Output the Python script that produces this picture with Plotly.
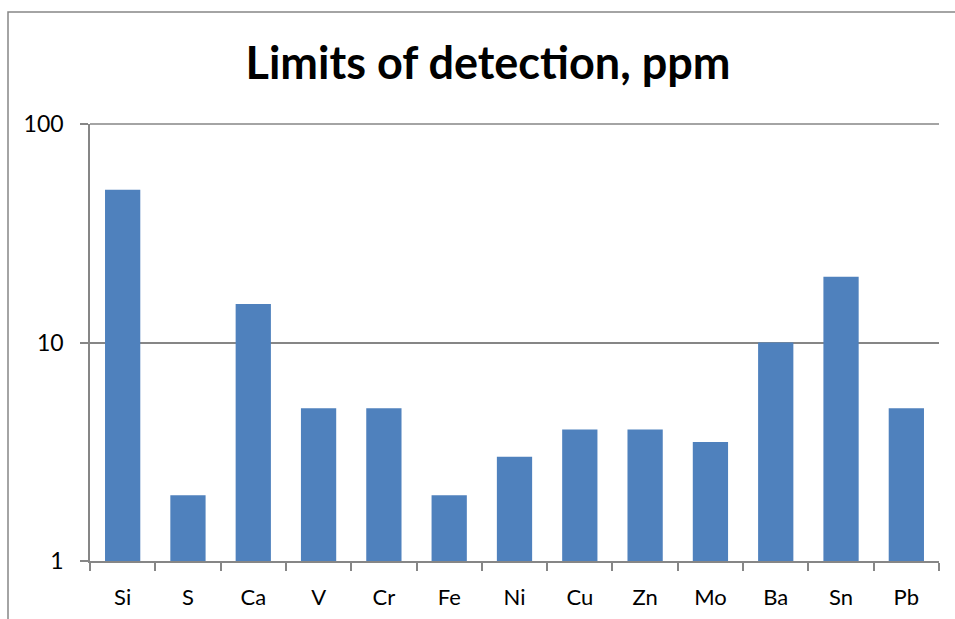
import plotly.graph_objects as go

elements = ["Si", "S", "Ca", "V", "Cr", "Fe", "Ni", "Cu", "Zn", "Mo", "Ba", "Sn", "Pb"]
lod_ppm = [50, 2, 15, 5, 5, 2, 3, 4, 4, 3.5, 10, 20, 5]
y_ticks = [1, 10, 100]
y_tick_labels = ["1", "10", "100"]

fig = go.Figure(go.Bar(x=elements, y=lod_ppm, marker=dict(color="#4F81BD", line=dict(width=0))))

L, R, T, B = 90, 16, 124, 58
W, H = 955, 619
pw, ph = W - L - R, H - T - B

fig.update_layout(
    width=W, height=H,
    margin=dict(l=L, r=R, t=T, b=B, autoexpand=False),
    paper_bgcolor="white", plot_bgcolor="white",
    bargap=0.46,
    showlegend=False,
    title=dict(text="<b>Limits of detection, ppm</b>", x=488 / W, xanchor="center",
               y=1 - 63 / H, yanchor="middle",
               font=dict(family="Lato", size=45, color="black")),
    font=dict(family="Lato", size=22, color="black"),
    xaxis=dict(showline=True, linecolor="#868686", linewidth=1.5, ticks="outside",
               tickson="boundaries", ticklen=8, tickcolor="#868686", tickwidth=1.5,
               showgrid=False, tickfont=dict(size=22), ticklabelstandoff=16),
    yaxis=dict(type="log", range=[0, 2], tickvals=y_ticks, ticktext=y_tick_labels,
               showline=True, linecolor="#868686", linewidth=1.5, ticks="outside",
               ticklen=8, tickcolor="#868686", tickwidth=1.5,
               showgrid=True, gridcolor="#868686", gridwidth=1.5, zeroline=False,
               tickfont=dict(size=23), ticklabelstandoff=12),
    shapes=[
        dict(type="rect", xref="paper", yref="paper",
             x0=(8 - L) / pw, x1=(975 - L) / pw,
             y0=(H - B - 640) / ph, y1=1 + (T - 12) / ph,
             line=dict(color="#868686", width=1.5), fillcolor="rgba(0,0,0,0)", layer="below"),
        dict(type="line", xref="paper", yref="paper", x0=0, x1=1, y0=1, y1=1,
             line=dict(color="#868686", width=1.5), layer="below"),
    ],
)

fig.write_html("out.html", config=dict(displayModeBar=False),
               post_script="document.body.style.margin='0px';document.body.style.overflow='hidden';")
